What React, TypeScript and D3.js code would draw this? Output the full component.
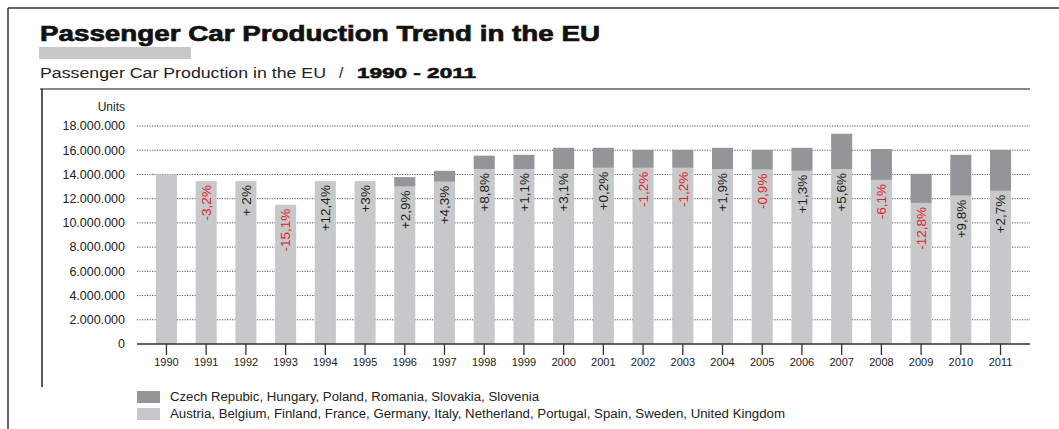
import React from "react";
import * as d3 from "d3";

const years = [
  "1990", "1991", "1992", "1993", "1994", "1995", "1996", "1997", "1998", "1999", "2000",
  "2001", "2002", "2003", "2004", "2005", "2006", "2007", "2008", "2009", "2010", "2011",
];

// EU-15 (light grey)
const oldMembers = [
  14000000, 13450000, 13450000, 11500000, 13450000, 13450000, 13000000, 13400000, 14450000,
  14450000, 14450000, 14550000, 14550000, 14550000, 14450000, 14400000, 14300000, 14450000,
  13550000, 11650000, 12250000, 12650000,
];

// new member states (dark grey)
const newMembers = [
  0, 0, 0, 0, 0, 0, 780000, 900000, 1100000, 1170000, 1750000, 1650000, 1480000, 1480000,
  1750000, 1630000, 1900000, 2910000, 2550000, 2400000, 3370000, 3380000,
];

const changes = [
  "", "-3,2%", "+ 2%", "-15,1%", "+12,4%", "+3%", "+2,9%", "+4,3%", "+8,8%", "+1,1%", "+3,1%",
  "+0,2%", "-1,2%", "-1,2%", "+1,9%", "-0,9%", "+1,3%", "+5,6%", "-6,1%", "-12,8%", "+9,8%", "+2,7%",
];

const yTicks = [0, 2000000, 4000000, 6000000, 8000000, 10000000, 12000000, 14000000, 16000000, 18000000];

const legendItems = [
  { label: "Czech Repubic, Hungary, Poland, Romania, Slovakia, Slovenia", color: "#949598", len: 369 },
  {
    label: "Austria, Belgium, Finland, France, Germany, Italy, Netherland, Portugal, Spain, Sweden, United Kingdom",
    color: "#c7c8ca",
    len: 615,
  },
];

const W = 1059;
const H = 429;
const font = "'Liberation Sans', Arial, Helvetica, sans-serif";

const fmt = (v: number) => (v === 0 ? "0" : d3.format(",")(v).replace(/,/g, "."));

export default function App() {
  const x = d3
    .scaleBand()
    .domain(years)
    .range([146.6, 1020.4])
    .paddingInner(0.47)
    .paddingOuter(0.235);

  const y = d3.scaleLinear().domain([0, 18000000]).range([344, 126]);

  const gridLeft = 137;
  const gridRight = 1030;

  return (
    <svg
      width={W}
      height={H}
      style={{ position: "absolute", left: 0, top: 0, background: "#fff" }}
      fontFamily={font}
    >
      {/* frame */}
      <line x1={8} y1={8} x2={W} y2={8} stroke="#333" strokeWidth={1.5} />
      <line x1={8} y1={8} x2={8} y2={H} stroke="#333" strokeWidth={1.5} />
      <line x1={40} y1={89} x2={gridRight} y2={89} stroke="#888" strokeWidth={2} />
      <line x1={42} y1={89} x2={42} y2={387} stroke="#222" strokeWidth={1.5} />

      {/* title */}
      <text x={40} y={41} fontSize={22} fontWeight={900} fill="#111" stroke="#111" strokeWidth={0.7}
        textLength={560} lengthAdjust="spacingAndGlyphs">
        Passenger Car Production Trend in the EU
      </text>
      <rect x={39} y={47} width={152} height={12} fill="#c7c8ca" />
      <text x={40} y={78} fontSize={15.5} fill="#222" textLength={286} lengthAdjust="spacingAndGlyphs">
        Passenger Car Production in the EU
      </text>
      <text x={339} y={78} fontSize={15.5} fill="#222">/</text>
      <text x={357} y={78} fontSize={15.5} fontWeight={900} fill="#111" stroke="#111" strokeWidth={0.6}
        textLength={119} lengthAdjust="spacingAndGlyphs">
        1990 - 2011
      </text>

      {/* y axis */}
      <text x={125} y={111} fontSize={12} textAnchor="end" fill="#222">Units</text>
      {yTicks.map((t) => (
        <g key={t}>
          {t > 0 && (
            <line x1={gridLeft} x2={gridRight} y1={y(t)} y2={y(t)} stroke="#555"
              strokeWidth={1} strokeDasharray="1.2 1.3" />
          )}
          <text x={125} y={y(t)} dy="0.35em" fontSize={12.5} textAnchor="end" fill="#222">
            {fmt(t)}
          </text>
        </g>
      ))}

      {/* bars */}
      {years.map((yr, i) => {
        const x0 = x(yr) as number;
        const total = oldMembers[i] + newMembers[i];
        return (
          <g key={yr}>
            <rect x={x0} width={x.bandwidth()} y={y(oldMembers[i])} height={y(0) - y(oldMembers[i])} fill="#c7c8ca" />
            {newMembers[i] > 0 && (
              <rect x={x0} width={x.bandwidth()} y={y(total)} height={y(oldMembers[i]) - y(total)} fill="#949598" />
            )}
          </g>
        );
      })}

      {/* change labels */}
      {years.map((yr, i) =>
        changes[i] ? (
          <text
            key={"c" + yr}
            transform={`translate(${(x(yr) as number) + x.bandwidth() / 2},${y(oldMembers[i]) + 4}) rotate(-90)`}
            textAnchor="end"
            dy="0.35em"
            fontSize={13.5}
            fill={changes[i].startsWith("-") ? "#e3232b" : "#231f20"}
          >
            {changes[i]}
          </text>
        ) : null
      )}

      {/* x axis */}
      <line x1={gridLeft} x2={gridRight} y1={y(0)} y2={y(0)} stroke="#333" strokeWidth={1.5} />
      {years.map((yr) => {
        const cx = (x(yr) as number) + x.bandwidth() / 2;
        return (
          <g key={"t" + yr}>
            <line x1={cx} x2={cx} y1={y(0)} y2={355} stroke="#333" strokeWidth={1.3} />
            <text x={cx} y={366} fontSize={11} textAnchor="middle" fill="#222">{yr}</text>
          </g>
        );
      })}

      {/* legend */}
      {legendItems.map((d, i) => (
        <g key={d.label} transform={`translate(137,${391 + i * 17})`}>
          <rect width={23} height={12} fill={d.color} />
          <text x={33} y={6} dy="0.35em" fontSize={12} fill="#222" textLength={d.len} lengthAdjust="spacingAndGlyphs">
            {d.label}
          </text>
        </g>
      ))}
    </svg>
  );
}
